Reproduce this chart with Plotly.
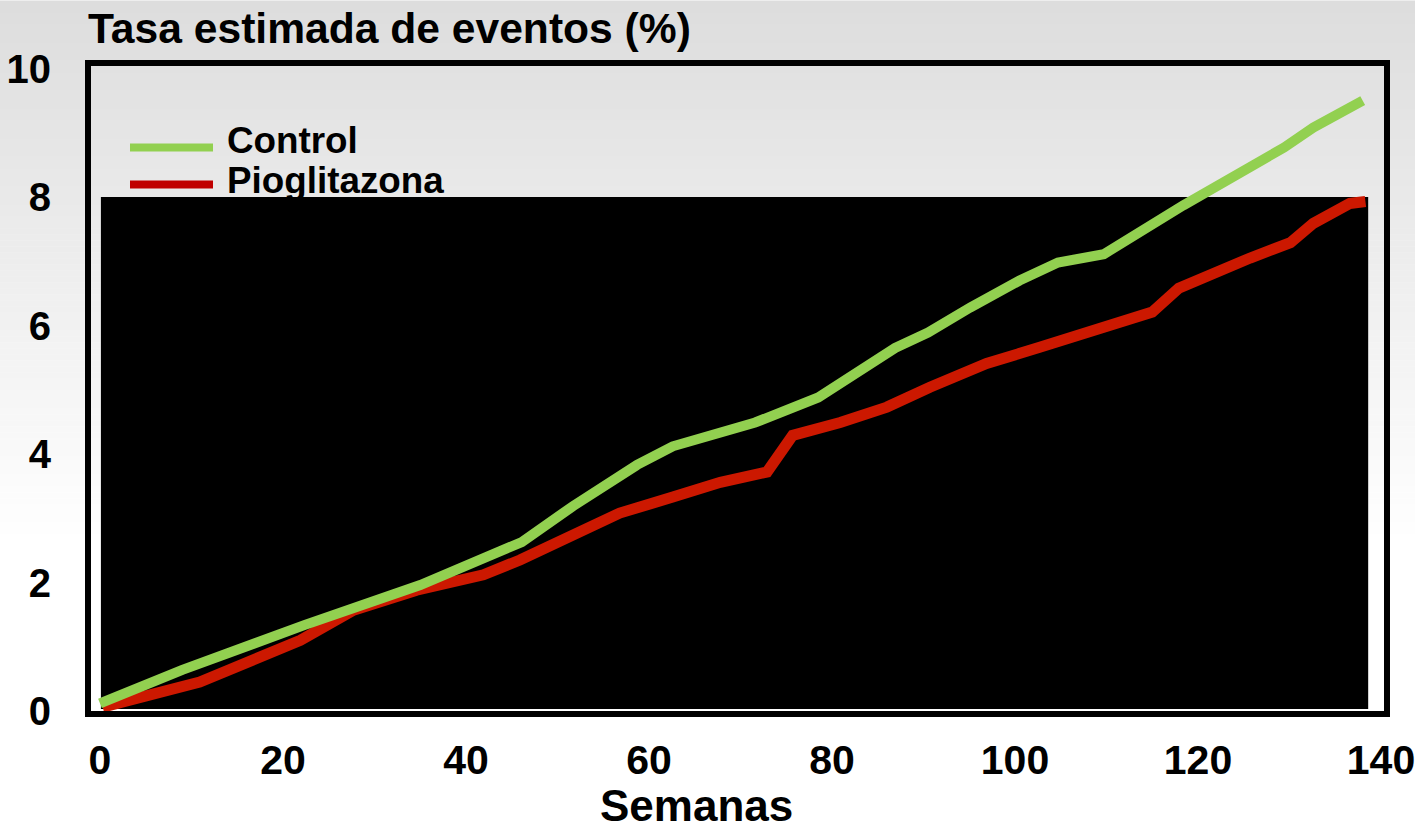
import plotly.graph_objects as go

# ---------------- data ----------------
weeks_control = [0, 9.0, 22.4, 35.0, 46.1, 51.7, 58.7, 62.6, 71.6, 78.5, 86.9, 90.5,
                 95.1, 100.5, 104.7, 109.7, 118.4, 124.6, 129.4, 132.6, 136.3, 138.0]
rate_control = [0.12, 0.64, 1.34, 1.96, 2.63, 3.19, 3.83, 4.12, 4.49, 4.88, 5.65, 5.89,
                6.28, 6.70, 6.98, 7.11, 7.87, 8.38, 8.77, 9.08, 9.38, 9.50]

weeks_pio = [0.3, 10.9, 21.9, 27.7, 34.6, 41.9, 45.9, 51.4, 56.8, 62.6, 67.8, 72.9,
             75.7, 80.9, 86.0, 90.7, 96.9, 102.7, 109.6, 115.0, 117.9, 121.9, 125.7,
             130.1, 132.6, 136.6, 138.3]
rate_pio = [0.06, 0.45, 1.10, 1.57, 1.88, 2.12, 2.35, 2.71, 3.08, 3.33, 3.56, 3.72,
            4.29, 4.49, 4.73, 5.04, 5.41, 5.66, 5.97, 6.21, 6.58, 6.83, 7.05,
            7.29, 7.59, 7.90, 7.93]

series_names = ["Control", "Pioglitazona"]
x_ticks = [0, 20, 40, 60, 80, 100, 120, 140]
y_ticks = [0, 2, 4, 6, 8, 10]

# black panel in the picture (data units)
box_x = [0.1, 138.6]
box_y = [0.03, 8.0]

# ---------------- styling ----------------
GREEN = "#92d050"
RED_LINE = "#cc1800"
RED_LEG = "#c00000"
FONT = "Liberation Sans, Arial, sans-serif"

W, H = 1415, 831
L, R, T, B = 88, 1387, 62.5, 714  # plot area in pixels
X_RANGE = [(L - 100) / 9.15, (R - 100) / 9.15]
Y_RANGE = [(711 - B) / 64.3, (711 - T) / 64.3]


def px_to_paper_x(px):
    return (px - L) / (R - L)


def px_to_paper_y(py):
    return (B - py) / (B - T)


def px_to_data_x(px):
    return (px - 100) / 9.15


def px_to_data_y(py):
    return (711 - py) / 64.3


fig = go.Figure()

# legend texts (drawn as a trace so the black panel covers them, like the original)
fig.add_trace(go.Scatter(
    x=[px_to_data_x(227), px_to_data_x(227)],
    y=[px_to_data_y(143), px_to_data_y(183)],
    mode="text", text=[f"<b>{s}</b>" for s in series_names], textposition="middle right",
    textfont=dict(family=FONT, size=36.8, color="black", weight="bold"),
    cliponaxis=False, showlegend=False, hoverinfo="skip"))

# black panel
fig.add_trace(go.Scatter(
    x=[box_x[0], box_x[1], box_x[1], box_x[0], box_x[0]],
    y=[box_y[0], box_y[0], box_y[1], box_y[1], box_y[0]],
    mode="lines", fill="toself", fillcolor="black", line=dict(width=0, color="black"),
    showlegend=False, hoverinfo="skip"))

fig.add_trace(go.Scatter(x=weeks_pio, y=rate_pio, mode="lines", name=series_names[1],
                         line=dict(color=RED_LINE, width=11), showlegend=False))
fig.add_trace(go.Scatter(x=weeks_control, y=rate_control, mode="lines", name=series_names[0],
                         line=dict(color=GREEN, width=10), showlegend=False))

shapes = []
# background gradient (light grey at top to white)
top_c, bot_c, end_px = 221, 255, 540
step = 6
for py in range(0, end_px, step):
    c = round(top_c + (bot_c - top_c) * (py / end_px))
    shapes.append(dict(type="rect", xref="paper", yref="paper",
                       x0=px_to_paper_x(-2), x1=px_to_paper_x(W + 2),
                       y0=px_to_paper_y(py + step + 0.5), y1=px_to_paper_y(py),
                       fillcolor=f"rgb({c},{c},{c})", line=dict(width=0), layer="below"))

# legend lines
for py, col in [(147, GREEN), (184, RED_LEG)]:
    shapes.append(dict(type="line", xref="paper", yref="paper",
                       x0=px_to_paper_x(130), x1=px_to_paper_x(213),
                       y0=px_to_paper_y(py), y1=px_to_paper_y(py),
                       line=dict(color=col, width=8), layer="below"))

# frame
shapes.append(dict(type="rect", xref="paper", yref="paper", x0=0, x1=1, y0=0, y1=1,
                   line=dict(color="black", width=6), layer="above"))

annotations = [
    dict(text="<b>Tasa estimada de eventos (%)</b>", xref="paper", yref="paper",
         x=px_to_paper_x(86), y=px_to_paper_y(27), xanchor="left", yanchor="middle",
         showarrow=False, font=dict(family=FONT, size=42.6, color="black")),
    dict(text="<b>Semanas</b>", xref="paper", yref="paper",
         x=px_to_paper_x(696), y=px_to_paper_y(806), xanchor="center", yanchor="middle",
         showarrow=False, font=dict(family=FONT, size=44, color="black")),
]

fig.update_layout(
    width=W, height=H,
    margin=dict(l=L, r=W - R, t=T, b=H - B, pad=0, autoexpand=False),
    paper_bgcolor="white", plot_bgcolor="rgba(0,0,0,0)",
    shapes=shapes, annotations=annotations, showlegend=False,
    font=dict(family=FONT, color="black"),
)
fig.update_xaxes(range=X_RANGE, tickvals=x_ticks, ticktext=[f"<b>{v}</b>" for v in x_ticks],
                 showgrid=False, zeroline=False, showline=False, automargin=False,
                 ticks="outside", ticklen=10, tickcolor="rgba(0,0,0,0)",
                 ticklabeloverflow="allow",
                 tickfont=dict(family=FONT, size=41, color="black"), fixedrange=True)
fig.update_yaxes(range=Y_RANGE, tickvals=y_ticks, ticktext=[f"<b>{v}</b>" for v in y_ticks],
                 showgrid=False, zeroline=False, showline=False, automargin=False,
                 ticks="outside", ticklen=28, tickcolor="rgba(0,0,0,0)",
                 tickfont=dict(family=FONT, size=40, color="black"), fixedrange=True)

fig.write_html("out.html", config={"displayModeBar": False})
